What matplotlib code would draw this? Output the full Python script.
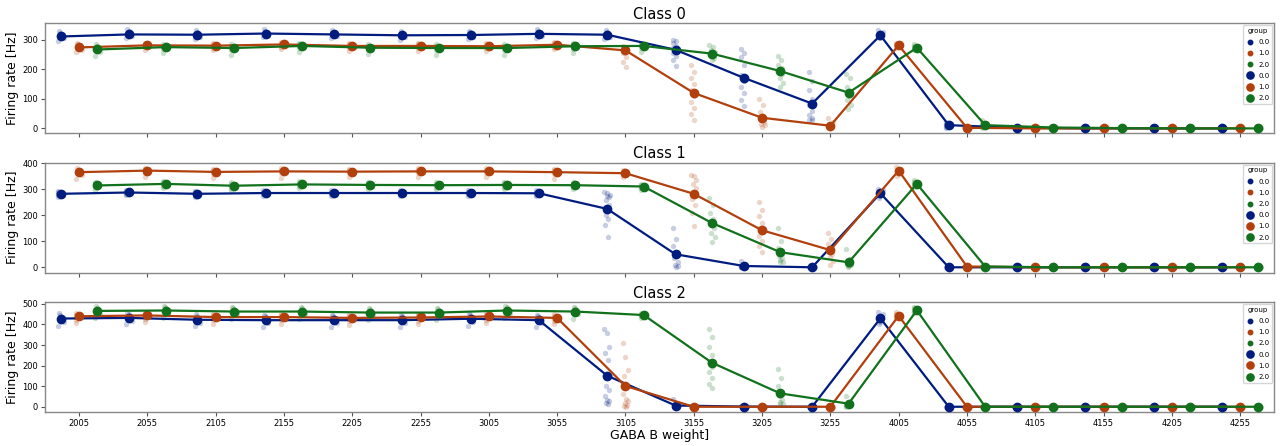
import numpy as np
import matplotlib
matplotlib.use("Agg")
import matplotlib.pyplot as plt
from matplotlib.lines import Line2D

# ---------------- data ----------------
weights = ["2005", "2055", "2105", "2155", "2205", "2255", "3005", "3055", "3105",
           "3155", "3205", "3255", "4005", "4055", "4105", "4155", "4205", "4255"]
groups = ["0.0", "1.0", "2.0"]
class_titles = ["Class 0", "Class 1", "Class 2"]

# mean firing rates (pointplot)
c0_g0_mean = [311, 318, 317, 321, 318, 315, 316, 320, 317, 266, 171, 84, 315, 11, 2, 0, 0, 0]
c0_g1_mean = [274, 281, 280, 284, 279, 279, 278, 283, 264, 120, 36, 9, 281, 2, 0, 0, 0, 0]
c0_g2_mean = [267, 275, 272, 279, 273, 272, 272, 278, 279, 253, 194, 121, 273, 11, 3, 1, 0, 0]

c1_g0_mean = [282, 287, 282, 285, 285, 285, 285, 284, 224, 50, 5, 0, 284, 0, 0, 0, 0, 0]
c1_g1_mean = [365, 371, 366, 368, 367, 368, 368, 365, 361, 282, 142, 66, 371, 3, 0, 0, 0, 0]
c1_g2_mean = [314, 320, 313, 318, 316, 315, 316, 315, 310, 170, 58, 19, 320, 3, 0, 0, 0, 0]

c2_g0_mean = [429, 432, 423, 421, 421, 421, 428, 421, 151, 6, 1, 0, 430, 0, 0, 0, 0, 0]
c2_g1_mean = [440, 444, 436, 436, 432, 434, 439, 432, 101, 0, 0, 0, 442, 0, 0, 0, 0, 0]
c2_g2_mean = [466, 468, 463, 463, 458, 458, 468, 463, 446, 214, 65, 15, 469, 0, 0, 0, 0, 0]

# individual trials (stripplot)
c0_g0_samples = [
    [296, 305, 310, 315, 322, 330], [305, 312, 318, 322, 328, 335], [302, 310, 316, 320, 326, 333],
    [308, 315, 320, 325, 330, 336], [305, 312, 318, 322, 326, 332], [300, 308, 314, 318, 324, 330],
    [302, 310, 315, 320, 325, 330], [306, 313, 319, 324, 330, 336], [303, 310, 316, 320, 326, 333],
    [300, 295, 290, 280, 272, 265, 255, 245, 230, 210],
    [268, 255, 240, 215, 180, 160, 140, 120, 95, 75],
    [190, 160, 130, 100, 80, 60, 45, 35, 30, 28],
    [332, 325, 318, 312, 310, 305], [22, 15, 10, 6, 3], [3, 2, 1],
    [0, 0, 0], [0, 0, 0], [0, 0, 0]]
c0_g1_samples = [
    [258, 266, 272, 278, 284, 288], [265, 274, 280, 285, 290], [264, 273, 279, 284, 290],
    [268, 276, 283, 288, 293], [262, 272, 279, 284, 290], [263, 272, 279, 284, 289],
    [261, 271, 278, 284, 289], [267, 276, 283, 288, 293],
    [278, 275, 272, 268, 265, 262, 255, 240, 225, 208],
    [213, 190, 170, 150, 130, 110, 90, 70, 50, 30],
    [100, 80, 55, 40, 30, 20, 15, 10, 6],
    [34, 20, 10, 5, 2, 0],
    [290, 286, 282, 278, 272], [4, 2, 0],
    [0, 0, 0], [0, 0, 0], [0, 0, 0], [0, 0, 0]]
c0_g2_samples = [
    [245, 258, 266, 272, 278, 284], [255, 268, 275, 280, 286], [250, 265, 273, 278, 284],
    [258, 272, 279, 284, 289], [252, 266, 273, 279, 285], [250, 265, 272, 278, 284],
    [250, 265, 272, 278, 284], [256, 270, 278, 284, 290], [258, 272, 279, 284, 290],
    [282, 275, 265, 258, 250, 245, 238, 233],
    [245, 230, 215, 205, 195, 185, 170, 155, 140],
    [183, 170, 140, 125, 110, 95, 80, 67],
    [285, 280, 275, 270, 265], [28, 18, 10, 5, 2], [5, 4, 3], [2, 1, 0],
    [0, 0, 0], [0, 0, 0]]

c1_g0_samples = [
    [270, 276, 282, 288, 294], [276, 282, 287, 292, 297], [270, 277, 282, 287, 293],
    [274, 280, 285, 290, 295], [274, 280, 285, 290, 295], [273, 280, 285, 290, 296],
    [273, 280, 285, 290, 296], [272, 279, 284, 289, 295],
    [289, 285, 276, 272, 268, 257, 238, 200, 187, 162, 118],
    [149, 110, 80, 50, 35, 20, 10, 5, 0],
    [25, 5, 3, 0, 0], [2, 0, 0],
    [301, 295, 288, 280, 272, 267],
    [0, 0, 0], [0, 0, 0], [0, 0, 0], [0, 0, 0], [0, 0, 0]]
c1_g1_samples = [
    [340, 355, 362, 368, 374, 380], [345, 362, 370, 376, 382], [342, 358, 366, 372, 378],
    [344, 360, 368, 374, 380], [345, 360, 367, 373, 379], [345, 360, 368, 374, 380],
    [345, 360, 368, 374, 380], [340, 357, 365, 372, 378], [345, 355, 361, 366, 372],
    [356, 350, 335, 320, 305, 290, 275, 262, 240, 210, 160],
    [250, 220, 195, 170, 150, 135, 120, 100, 80, 60],
    [130, 110, 90, 75, 60, 50, 40, 25, 9],
    [383, 378, 372, 366, 360, 352], [6, 3, 0],
    [0, 0, 0], [0, 0, 0], [0, 0, 0], [0, 0, 0]]
c1_g2_samples = [
    [298, 307, 314, 320, 327], [305, 313, 320, 326, 333], [298, 306, 313, 320, 326],
    [303, 311, 318, 324, 330], [301, 309, 316, 322, 328], [300, 308, 315, 321, 327],
    [301, 309, 316, 322, 328], [300, 308, 315, 321, 327], [298, 305, 310, 315, 320],
    [267, 240, 210, 185, 165, 150, 130, 115, 98],
    [152, 100, 75, 55, 45, 35, 28, 22, 20],
    [69, 30, 15, 10, 9, 5, 2],
    [335, 328, 320, 314, 307], [6, 3, 0],
    [0, 0, 0], [0, 0, 0], [0, 0, 0], [0, 0, 0]]

c2_g0_samples = [
    [395, 410, 425, 438, 448, 456], [400, 415, 428, 440, 450, 458], [392, 408, 420, 432, 442, 450],
    [388, 405, 418, 430, 440, 448], [388, 405, 418, 430, 440, 448], [388, 405, 418, 430, 440, 448],
    [395, 412, 425, 437, 447, 455], [388, 405, 418, 430, 440, 448],
    [377, 360, 290, 260, 225, 150, 100, 80, 50, 35, 30, 20, 14],
    [40, 11, 5, 0, 0, 0], [3, 0, 0], [0, 0, 0],
    [463, 450, 435, 420, 410, 401],
    [0, 0, 0], [0, 0, 0], [0, 0, 0], [0, 0, 0], [0, 0, 0]]
c2_g1_samples = [
    [405, 422, 438, 448, 455], [410, 428, 442, 452, 458], [400, 420, 435, 445, 452],
    [402, 420, 435, 445, 452], [398, 416, 430, 442, 450], [400, 418, 432, 444, 452],
    [405, 424, 437, 447, 455], [400, 418, 432, 442, 450],
    [312, 240, 180, 150, 100, 60, 40, 30, 20, 10, 5, 0],
    [0, 0, 0], [0, 0, 0], [0, 0, 0],
    [460, 452, 445, 438, 430],
    [0, 0, 0], [0, 0, 0], [0, 0, 0], [0, 0, 0], [0, 0, 0]]
c2_g2_samples = [
    [430, 452, 465, 474, 482, 488], [432, 455, 468, 476, 484, 490], [428, 450, 462, 471, 479, 485],
    [428, 450, 462, 471, 479, 485], [422, 445, 458, 467, 475, 482], [422, 445, 458, 467, 475, 482],
    [432, 455, 468, 476, 484, 490], [428, 450, 462, 471, 479, 485], [430, 440, 446, 452, 458],
    [377, 340, 290, 250, 220, 195, 170, 140, 110, 93],
    [185, 140, 100, 70, 50, 35, 25, 15, 11],
    [50, 15, 8, 5, 0],
    [485, 478, 470, 462, 455],
    [0, 0, 0], [0, 0, 0], [0, 0, 0], [0, 0, 0], [0, 0, 0]]

y_limits = [(-17, 356), (-21, 402), (-26, 510)]
y_ticks = [[0, 100, 200, 300], [0, 100, 200, 300, 400], [0, 100, 200, 300, 400, 500]]

# ---------------- styling ----------------
colors = ["#001c7f", "#b1400d", "#12711c"]
dodge = 0.267

means = [[c0_g0_mean, c0_g1_mean, c0_g2_mean],
         [c1_g0_mean, c1_g1_mean, c1_g2_mean],
         [c2_g0_mean, c2_g1_mean, c2_g2_mean]]
samples = [[c0_g0_samples, c0_g1_samples, c0_g2_samples],
           [c1_g0_samples, c1_g1_samples, c1_g2_samples],
           [c2_g0_samples, c2_g1_samples, c2_g2_samples]]

fig, axes = plt.subplots(3, 1, figsize=(12.82, 4.46), dpi=100, sharex=True)
fig.subplots_adjust(left=0.035, right=0.994, top=0.948, bottom=0.076, hspace=0.264)

xpos = np.arange(len(weights))
for ci, ax in enumerate(axes):
    for gi in range(3):
        off = (gi - 1) * dodge
        # strip points
        for xi, vals in enumerate(samples[ci][gi]):
            n = len(vals)
            jit = np.array([((k * 5) % n) / max(n - 1, 1) - 0.5 for k in range(n)]) * 0.08
            ax.scatter(xi + off + jit, vals, s=15, color=colors[gi], alpha=0.22,
                       linewidths=0, zorder=2)
        # point plot
        ax.plot(xpos + off, means[ci][gi], color=colors[gi], lw=1.6, marker="o",
                markersize=6, zorder=3)
    ax.set_xlim(-0.5, len(weights) - 0.5)
    ax.set_ylim(*y_limits[ci])
    ax.set_yticks(y_ticks[ci])
    ax.set_title(class_titles[ci], fontsize=10.5, pad=3)
    ax.set_ylabel("Firing rate [Hz]", fontsize=9, labelpad=2)
    ax.tick_params(axis="both", labelsize=6, length=3, width=0.8, color="#555555", pad=2)
    for sp in ax.spines.values():
        sp.set_color("#888888")
        sp.set_linewidth(1.0)
    handles = [Line2D([], [], ls="", marker="o", markersize=3.2, color=c) for c in colors] + \
              [Line2D([], [], ls="", marker="o", markersize=5.2, color=c) for c in colors]
    leg = ax.legend(handles, groups + groups, title="group", loc="upper right",
                    fontsize=5, title_fontsize=5, labelspacing=0.75, borderaxespad=0.3,
                    handletextpad=0.6, handlelength=1.2, framealpha=0.8)
    leg.get_frame().set_edgecolor("#cccccc")

axes[-1].set_xticks(xpos)
axes[-1].set_xticklabels(weights)
axes[-1].set_xlabel("GABA B weight]", fontsize=9, labelpad=1)

fig.savefig("out.png", dpi=100)
